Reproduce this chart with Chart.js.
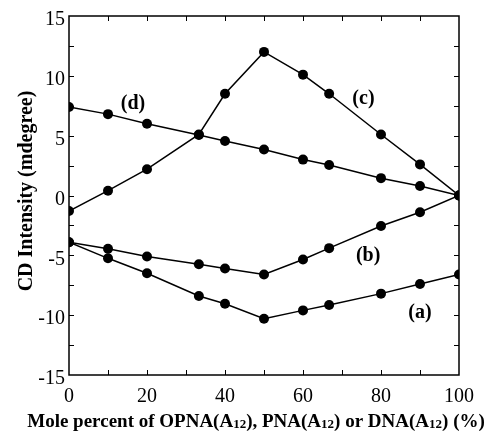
<!DOCTYPE html>
<html>
<head>
<meta charset="utf-8">
<script src="https://cdn.jsdelivr.net/npm/chart.js@4"></script>
<style>
html,body{margin:0;padding:0;background:#fff;}
#wrap{width:487px;height:431px;}
</style>
</head>
<body>
<div id="wrap"><canvas id="c" width="487" height="431"></canvas></div>
<script>
// Data
const molePercent = [0, 10, 20, 33.3, 40, 50, 60, 66.7, 80, 90, 100];
const seriesA = [-3.9, -5.25, -6.5, -8.4, -9.05, -10.3, -9.6, -9.15, -8.2, -7.4, -6.6];
const seriesB = [-3.9, -4.45, -5.1, -5.75, -6.1, -6.6, -5.35, -4.4, -2.55, -1.4, 0];
const seriesC = [-1.3, 0.4, 2.2, 5.1, 8.5, 12.0, 10.1, 8.5, 5.1, 2.6, 0];
const seriesD = [7.4, 6.8, 6.0, 5.05, 4.55, 3.85, 3.0, 2.55, 1.45, 0.8, 0];
const seriesNames = ['(a)', '(b)', '(c)', '(d)'];
const labelX = [90, 76.7, 75.5, 16.4];
const labelY = [-9.8, -5.0, 8.1, 7.7];
// x-axis title pieces: [text, isSubscript]
const xTitleParts = [
  ['Mole percent of OPNA(A', false], ['12', true],
  ['), PNA(A', false], ['12', true],
  [') or DNA(A', false], ['12', true],
  [') (%)', false]
];
const yTitle = 'CD Intensity (mdegree)';

const FONT = '"Liberation Serif", "Times New Roman", serif';

function pts(ys) { return molePercent.map((x, i) => ({x: x, y: ys[i]})); }

const allSeries = [seriesA, seriesB, seriesC, seriesD];
const datasets = allSeries.map((s, i) => ({
  label: seriesNames[i],
  data: pts(s),
  borderColor: '#000',
  backgroundColor: '#000',
  borderWidth: 1.5,
  pointRadius: 5,
  pointBackgroundColor: '#000',
  pointBorderColor: '#000',
  pointBorderWidth: 0,
  tension: 0,
  fill: false
}));

const frameTicks = {
  id: 'frameTicks',
  afterDatasetsDraw(chart) {
    const ctx = chart.ctx;
    const a = chart.chartArea;
    const xs = chart.scales.x, ys = chart.scales.y;
    ctx.save();
    ctx.strokeStyle = '#000';
    ctx.lineWidth = 1.5;
    ctx.strokeRect(a.left, a.top, a.right - a.left, a.bottom - a.top);
    ctx.lineWidth = 1;
    const L = 5;
    ctx.beginPath();
    for (let v = 10; v < 100; v += 10) {
      const px = Math.round(xs.getPixelForValue(v)) + 0.5;
      ctx.moveTo(px, a.bottom); ctx.lineTo(px, a.bottom - L);
      ctx.moveTo(px, a.top); ctx.lineTo(px, a.top + L);
    }
    for (let v = -12.5; v < 15; v += 2.5) {
      const py = Math.round(ys.getPixelForValue(v)) + 0.5;
      ctx.moveTo(a.left, py); ctx.lineTo(a.left + L, py);
      ctx.moveTo(a.right, py); ctx.lineTo(a.right - L, py);
    }
    ctx.stroke();
    // series labels
    ctx.fillStyle = '#000';
    ctx.font = 'bold 20px ' + FONT;
    ctx.textAlign = 'center';
    ctx.textBaseline = 'middle';
    seriesNames.forEach((n, i) => {
      ctx.fillText(n, xs.getPixelForValue(labelX[i]), ys.getPixelForValue(labelY[i]));
    });
    ctx.restore();
  },
  afterDraw(chart) {
    const ctx = chart.ctx;
    ctx.save();
    ctx.fillStyle = '#000';
    ctx.textBaseline = 'alphabetic';
    ctx.textAlign = 'left';
    const mainF = 'bold 19px ' + FONT, subF = 'bold 13px ' + FONT;
    let total = 0;
    xTitleParts.forEach(p => { ctx.font = p[1] ? subF : mainF; total += ctx.measureText(p[0]).width; });
    let x = 256 - total / 2;
    const base = 427;
    xTitleParts.forEach(p => {
      ctx.font = p[1] ? subF : mainF;
      ctx.fillText(p[0], x, p[1] ? base + 1 : base);
      x += ctx.measureText(p[0]).width;
    });
    // y title
    ctx.translate(27, 191);
    ctx.rotate(-Math.PI / 2);
    ctx.font = 'bold 20px ' + FONT;
    ctx.textAlign = 'center';
    ctx.textBaseline = 'middle';
    ctx.fillText(yTitle, 0, 0);
    ctx.restore();
  }
};

new Chart(document.getElementById('c'), {
  type: 'line',
  data: { datasets: datasets },
  options: {
    responsive: false,
    animation: false,
    layout: { padding: { top: 16, right: 28, left: 0, bottom: 0 } },
    plugins: { legend: { display: false }, tooltip: { enabled: false } },
    scales: {
      x: {
        type: 'linear',
        min: 0, max: 100,
        grid: { display: false, drawTicks: false },
        border: { display: false },
        ticks: { stepSize: 20, color: '#000', padding: 10, font: { family: FONT, size: 20 }, maxRotation: 0 },
        afterFit(scale) { scale.height = 56; }
      },
      y: {
        type: 'linear',
        min: -15, max: 15,
        grid: { display: false, drawTicks: false },
        border: { display: false },
        ticks: { stepSize: 5, color: '#000', padding: 4, labelOffset: 4, font: { family: FONT, size: 20 } },
        afterFit(scale) { scale.width = 69; }
      }
    }
  },
  plugins: [frameTicks]
});
</script>
</body>
</html>
